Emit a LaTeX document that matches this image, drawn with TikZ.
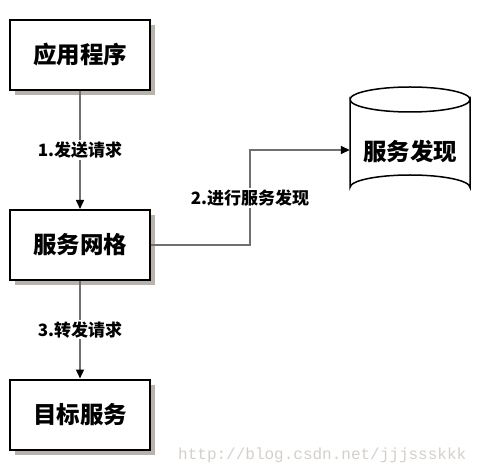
\documentclass[tikz,border=0pt]{standalone}
\usepackage{fontspec}
\newfontfamily\cjk{Noto Sans CJK SC}
\newfontfamily\wmfont{Liberation Mono}
\usetikzlibrary{shadows,arrows.meta}
\definecolor{shadowgray}{HTML}{B8B4AC}
\definecolor{linegray}{HTML}{707070}
\definecolor{wmgray}{HTML}{D4D0C8}
\tikzset{
  boxnode/.style={draw=black, line width=2pt, fill=white, minimum width=140pt, minimum height=70pt, inner sep=0pt,
    font=\cjk\bfseries\fontsize{23.5}{26}\selectfont,
    drop shadow={shadow xshift=5pt, shadow yshift=-5pt, fill=shadowgray, opacity=1}},
  lbl/.style={fill=white, inner sep=1.5pt, font=\cjk\bfseries\fontsize{17}{19}\selectfont},
  conn/.style={draw=linegray, line width=1.5pt, -{Triangle[length=9pt,width=8pt,fill=black,color=black]}},
}
\begin{document}
\begin{tikzpicture}[x=1pt,y=-1pt]
\useasboundingbox (0,0) rectangle (490,470);
\node[boxnode] (app) at (80,55) {应用程序};
\node[boxnode] (mesh) at (80,245) {服务网格};
\node[boxnode] (target) at (80,414.5) {目标服务};
% cylinder
\draw[line width=1.5pt, fill=white] (350,99.5) -- (350,187.5) arc[start angle=180,end angle=360,x radius=60,y radius=12.5] -- (470,99.5) arc[start angle=0,end angle=180,x radius=60,y radius=12.5] -- cycle;
\draw[line width=1.5pt] (350,99.5) arc[start angle=180,end angle=360,x radius=60,y radius=12.5];
\node[inner sep=0pt, minimum width=120pt, minimum height=100pt, font=\cjk\bfseries\fontsize{23.5}{26}\selectfont] (disc) at (410,151) {服务发现};
\coordinate (bend) at (250,150);
\draw[conn] (app.south) -- (mesh.north) node[lbl, pos=0.5] (l1) {1.发送请求};
\draw[conn] (mesh.south) -- (target.north) node[lbl, pos=0.5] (l3) {3.转发请求};
\draw[conn] (mesh.east) -| (bend) -- (disc.west |- bend);
\node[lbl] (l2) at (250,198) {2.进行服务发现};
\node[anchor=west, inner sep=0pt, text=wmgray, font=\wmfont\fontsize{16}{18}\selectfont] (wm) at (178,455) {http://blog.csdn.net/jjjssskkk};
\end{tikzpicture}
\end{document}
